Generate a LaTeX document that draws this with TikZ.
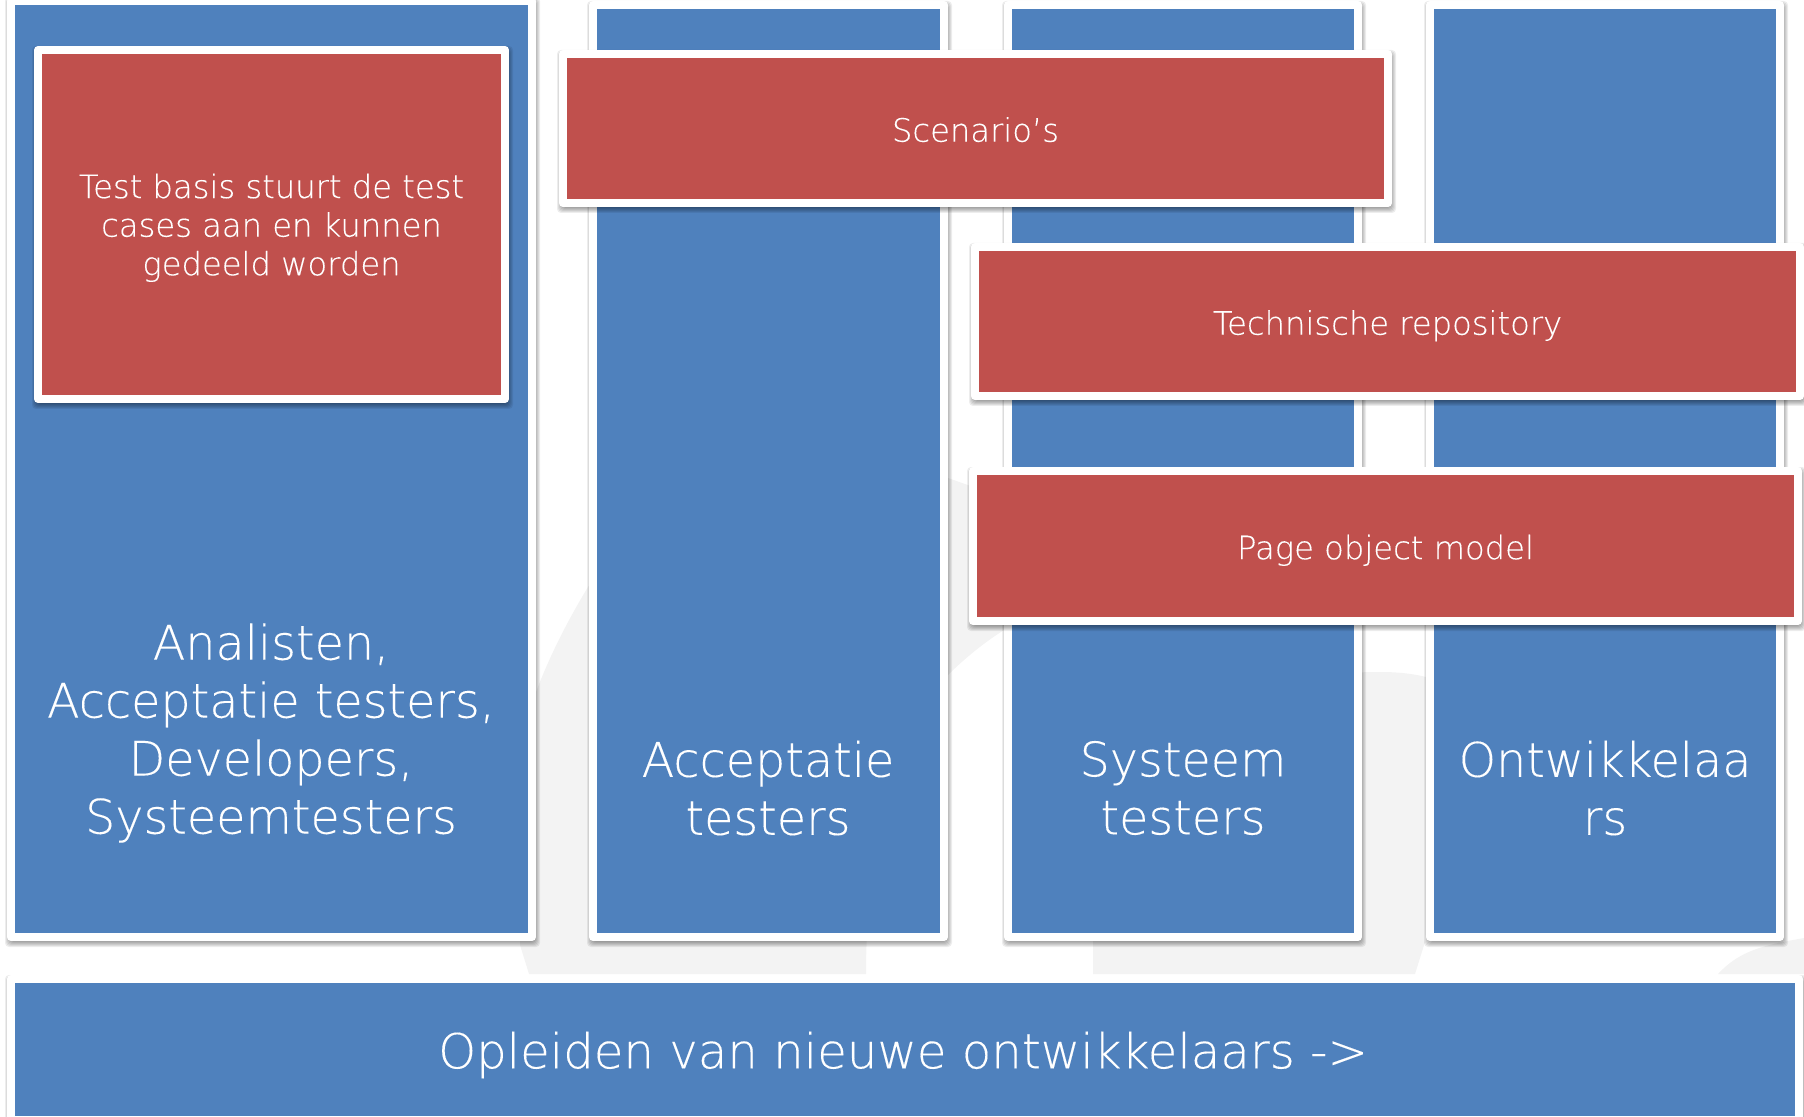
\documentclass[tikz,border=0pt]{standalone}
\usepackage{fontspec}
\setmainfont{DejaVu Sans}[UprightFont=* ExtraLight,FakeBold=0.25]
\newfontfamily\lightfont{DejaVu Sans ExtraLight}[FakeBold=0.2]
\definecolor{panelblue}{HTML}{4F81BD}
\definecolor{panelred}{HTML}{C0504D}
\definecolor{watermark}{HTML}{F3F3F3}
\newcommand\smalltext{\lightfont\fontsize{16.1}{19.3}\selectfont}
\newcommand\bigtext{\lightfont\fontsize{23.8}{29}\selectfont}
\newcommand\bartext{\lightfont\fontsize{24.1}{29}\selectfont}
\tikzset{
  panel/.style={draw=white,line width=4pt,line join=round,inner sep=0pt,outer sep=0pt,
    text=white,align=center,font=\smalltext},
  oneline/.style={text height=14pt,text depth=0.8pt},
  bigtext/.style={text=white,align=center,inner sep=0pt,font=\bigtext},
  bartextstyle/.style={text=white,align=center,inner sep=0pt,font=\bartext},
  wm/.style={fill=watermark,draw=none}
}
% outer extents (px): name x1 y1 x2 y2 fill options text
\newcommand\panelbox[8]{%
  \foreach \s in {-2,...,3}{%
    \fill[black,opacity=.07,rounded corners=2pt]
      ({#2+1-\s},{#3+3-\s}) rectangle ({#4+1+\s},{#5+3+\s});
  }%
  \node[panel,fill=#6,#7,minimum width={(#4-#2-8)*0.5pt},minimum height={(#5-#3-8)*0.5pt}]
    (#1) at ({(#2+#4)/2},{(#3+#5)/2}) {#8};
}
\begin{document}
\begin{tikzpicture}[x=0.5pt,y=-0.5pt]
\useasboundingbox (0,0) rectangle (1804,1117);
\clip (0,0) rectangle (1804,1117);
% watermark
\fill[wm] (529,974) -- (520,945) .. controls (522,820) and (528,720) .. (536,692)
  .. controls (550,655) and (568,620) .. (588,587) .. controls (680,490) and (830,450) .. (948,478)
  -- (1010,500) -- (1010,626) -- (1004,630) .. controls (985,642) and (965,658) .. (948,675)
  .. controls (890,760) and (866,860) .. (866,974) -- cycle;
\fill[wm] (1093,974) -- (1093,820) .. controls (1130,720) and (1250,672) .. (1380,672)
  .. controls (1400,672) and (1415,674) .. (1430,678) -- (1440,800) -- (1425,942) -- (1415,974) -- cycle;
\fill[wm] (1718,974) .. controls (1740,950) and (1765,945) .. (1804,938) -- (1804,974) -- cycle;
% columns
\panelbox{colA}{7}{-3}{536}{941}{panelblue}{}{}
\panelbox{colB}{589}{1}{948}{941}{panelblue}{}{}
\panelbox{colC}{1004}{1}{1362}{941}{panelblue}{}{}
\panelbox{colD}{1426}{1}{1784}{941}{panelblue}{}{}
\panelbox{bar}{7}{975}{1803}{1124}{panelblue}{}{}
% red panels
\panelbox{basis}{34}{46}{509}{403}{panelred}{}{\rule{0pt}{15.5pt}Test basis stuurt de test\\cases aan en kunnen\\gedeeld worden}
\panelbox{scen}{559}{50}{1392}{207}{panelred}{oneline}{Scenario’s}
\panelbox{repo}{971}{243}{1804}{400}{panelred}{oneline}{Technische repository}
\panelbox{pom}{969}{467}{1802}{625}{panelred}{oneline}{Page object model}
% big labels
\node[bigtext] (tA) at (271,733) {Analisten,\\Acceptatie testers,\\Developers,\\Systeemtesters};
\node[bigtext] (tB) at (768,788) {Acceptatie\\testers};
\node[bigtext] (tC) at (1183,788) {Systeem\\testers};
\node[bigtext] (tD) at (1605,788) {Ontwikkelaa\\rs};
\node[bartextstyle] (tE) at (903,1055) {Opleiden van nieuwe ontwikkelaars ->};
\end{tikzpicture}
\end{document}
